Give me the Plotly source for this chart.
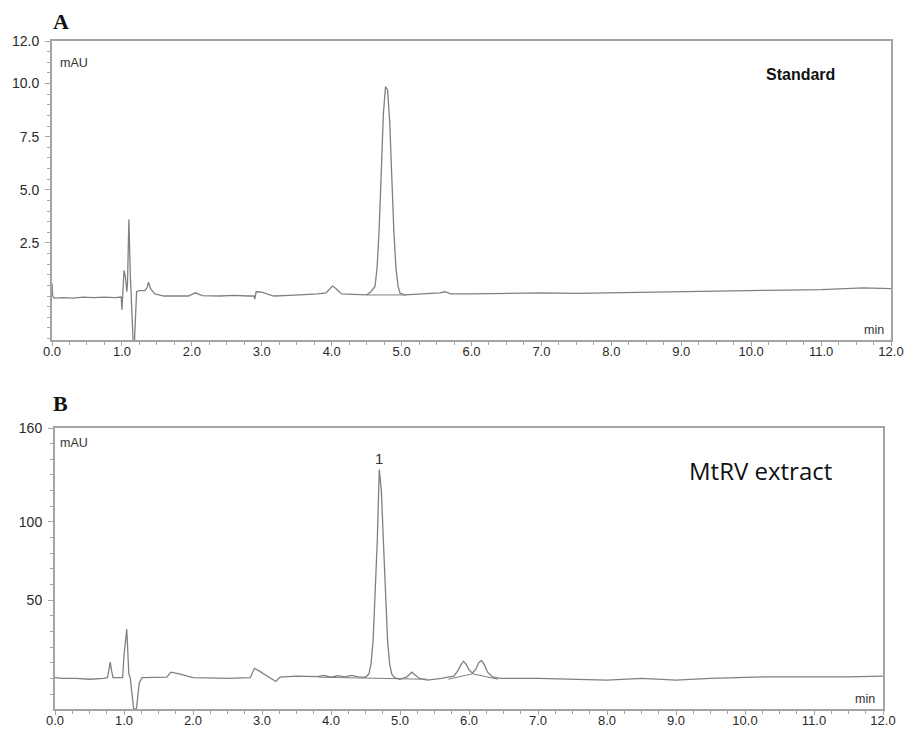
import plotly.graph_objects as go

# ---- Panel A: reference standard (time in min, signal in mAU) ----
std_time = [
    0.00, 0.01, 0.03, 0.15, 0.30, 0.45, 0.60, 0.75, 0.90, 0.99,
    1.00, 1.02, 1.03, 1.05, 1.07, 1.08, 1.10, 1.12, 1.14, 1.16,
    1.18, 1.21, 1.25, 1.33, 1.36, 1.38, 1.41, 1.47, 1.60, 1.80,
    1.95, 2.05, 2.15, 2.40, 2.60, 2.80, 2.89, 2.90, 2.92, 3.00,
    3.17, 3.40, 3.60, 3.80, 3.92, 3.97, 4.01, 4.06, 4.14, 4.30, 4.50,
    4.56, 4.62, 4.65, 4.68, 4.71, 4.74, 4.77, 4.80, 4.83, 4.86,
    4.89, 4.92, 4.95, 4.98, 5.05, 5.30, 5.55, 5.62, 5.70, 6.00,
    6.50, 7.00, 7.50, 8.00, 8.50, 9.00, 9.50, 10.00, 10.50, 11.00,
    11.60, 12.00,
]
std_signal = [
    0.60, 0.00, -0.10, -0.08, -0.10, -0.05, -0.08, -0.05, -0.08, -0.05,
    -0.66, 0.40, 1.20, 0.90, 0.20, 0.60, 3.60, 1.00, -0.60, -2.10,
    -2.10, 0.20, 0.25, 0.25, 0.40, 0.65, 0.35, 0.10, 0.00, 0.02,
    0.00, 0.15, 0.02, 0.00, 0.03, 0.00, 0.00, -0.15, 0.20, 0.18,
    0.00, 0.03, 0.05, 0.10, 0.15, 0.35, 0.47, 0.35, 0.10, 0.08, 0.05,
    0.20, 0.45, 1.35, 3.20, 5.90, 8.60, 9.85, 9.70, 8.20, 5.50,
    3.00, 1.30, 0.45, 0.12, 0.05, 0.10, 0.15, 0.20, 0.10, 0.10,
    0.12, 0.15, 0.12, 0.15, 0.18, 0.22, 0.24, 0.27, 0.28, 0.30,
    0.38, 0.35,
]
# integration baseline drawn under the standard peak
std_base_time = [4.50, 5.07]
std_base_signal = [0.05, 0.05]

# ---- Panel B: MtRV extract ----
ext_time = [
    0.00, 0.10, 0.30, 0.50, 0.70, 0.76, 0.78, 0.80, 0.82, 0.84,
    0.98, 1.00, 1.04, 1.07, 1.09, 1.12, 1.14, 1.18, 1.22, 1.26,
    1.50, 1.62, 1.68, 1.80, 2.00, 2.50, 2.83, 2.89, 2.95, 3.10,
    3.20, 3.26, 3.50, 3.80, 3.90, 4.00, 4.10, 4.20, 4.30, 4.40,
    4.50, 4.55, 4.58, 4.61, 4.64, 4.67, 4.70, 4.73, 4.76, 4.79,
    4.82, 4.85, 4.88, 4.92, 5.00, 5.10, 5.14, 5.17, 5.21, 5.28, 5.40, 5.60,
    5.78, 5.84, 5.88, 5.92, 5.96, 6.00, 6.05, 6.10, 6.14, 6.18, 6.22, 6.27,
    6.34, 6.45, 7.00, 7.50, 8.00, 8.50,
    9.00, 9.50, 10.00, 10.30, 11.00, 11.50, 12.00,
]
ext_signal = [
    0.5, 0.0, 0.0, -0.5, 0.0, 0.5, 5.0, 10.5, 5.0, 0.5,
    0.5, 15.0, 31.5, 3.0, 0.5, -10.0, -19.5, -19.5, -3.0, 0.5,
    0.5, 0.8, 4.0, 3.0, 0.5, 0.0, 0.5, 6.5, 5.0, 1.0,
    -1.9, 0.9, 1.5, 1.2, 2.0, 0.8, 1.8, 1.0, 2.0, 1.0,
    0.8, 2.9, 9.3, 24.0, 51.0, 87.0, 133.5, 120.0, 87.0, 51.0,
    24.0, 9.3, 2.9, 0.5, -0.5, 1.0, 3.0, 4.0, 2.5, 0.0, -1.0, 0.0,
    1.5, 5.0, 8.5, 11.0, 9.0, 5.5, 3.5, 6.0, 10.0, 11.5, 9.0, 4.0,
    1.0, 0.0, 0.0, -0.5, -1.0, 0.0,
    -1.0, 0.0, 0.5, 1.0, 1.0, 1.0, 1.5,
]
# integration baselines under the extract peaks
ext_base_time = [3.82, 5.40, None, 5.70, 6.05, 6.42]
ext_base_signal = [0.8, -0.5, None, -0.5, 3.0, -0.5]

x_ticks = [0, 1, 2, 3, 4, 5, 6, 7, 8, 9, 10, 11, 12]
x_tick_text = ["0.0", "1.0", "2.0", "3.0", "4.0", "5.0", "6.0",
               "7.0", "8.0", "9.0", "10.0", "11.0", "12.0"]
std_y_ticks = [2.5, 5.0, 7.5, 10.0, 12.0]
std_y_text = ["2.5", "5.0", "7.5", "10.0", "12.0"]
ext_y_ticks = [50, 100, 160]
ext_y_text = ["50", "100", "160"]

W, H = 915, 736
TRACE = "#808080"
AXIS = "#a4a4a4"
XTICKFONT = dict(family="Liberation Sans, Arial", size=13, color="#2a2a2a")
YTICKFONT = dict(family="Liberation Sans, Arial", size=14, color="#2a2a2a")

fig = go.Figure()
fig.add_trace(go.Scatter(x=std_time, y=std_signal, mode="lines",
                         line=dict(color=TRACE, width=1.3),
                         xaxis="x", yaxis="y", showlegend=False))
fig.add_trace(go.Scatter(x=std_base_time, y=std_base_signal, mode="lines",
                         line=dict(color=TRACE, width=1),
                         xaxis="x", yaxis="y", showlegend=False))
fig.add_trace(go.Scatter(x=ext_time, y=ext_signal, mode="lines",
                         line=dict(color=TRACE, width=1.3),
                         xaxis="x2", yaxis="y2", showlegend=False))
fig.add_trace(go.Scatter(x=ext_base_time, y=ext_base_signal, mode="lines",
                         line=dict(color=TRACE, width=1),
                         xaxis="x2", yaxis="y2", showlegend=False))


def px_x(p):
    return p / W


def px_y(p):
    return 1 - p / H


common_x = dict(
    range=[0, 12], tickvals=x_ticks, ticktext=x_tick_text,
    showline=True, linecolor=AXIS, linewidth=2, mirror=True,
    ticks="outside", ticklen=4, tickcolor=AXIS, tickwidth=1,
    ticklabelstandoff=-6,
    minor=dict(dtick=0.25, tick0=0, ticks="outside", ticklen=3,
               tickcolor=AXIS, tickwidth=1),
    showgrid=False, zeroline=False, tickfont=XTICKFONT, fixedrange=True,
    automargin=False,
)
common_y = dict(
    showline=True, linecolor=AXIS, linewidth=2, mirror=True,
    ticks="outside", ticklen=5, tickcolor=AXIS, tickwidth=1,
    ticklabelstandoff=3,
    showgrid=False, zeroline=False, tickfont=YTICKFONT, fixedrange=True,
    automargin=False,
)

fig.update_layout(
    template="none",
    width=W, height=H,
    margin=dict(l=0, r=0, t=0, b=0, autoexpand=False),
    paper_bgcolor="white", plot_bgcolor="white",
    xaxis=dict(domain=[px_x(52), px_x(891)], anchor="y", **common_x),
    yaxis=dict(domain=[px_y(340), px_y(41)], anchor="x",
               range=[-2.07, 12.0], tickvals=std_y_ticks, ticktext=std_y_text,
               minor=dict(dtick=0.5, tick0=0, ticks="outside", ticklen=3,
                          tickcolor=AXIS, tickwidth=1),
               **common_y),
    xaxis2=dict(domain=[px_x(55), px_x(883)], anchor="y2", **common_x),
    yaxis2=dict(domain=[px_y(709), px_y(428)], anchor="x2",
                range=[-19.5, 160], tickvals=ext_y_ticks, ticktext=ext_y_text,
                minor=dict(dtick=10, tick0=0, ticks="outside", ticklen=3,
                           tickcolor=AXIS, tickwidth=1),
                **common_y),
)

small = dict(family="Liberation Sans, Arial", size=12.5, color="#333333")
letter = dict(family="Liberation Serif, Times New Roman", size=22, color="#111")
annotations = [
    # panel letters
    dict(text="<b>A</b>", x=px_x(51), y=px_y(21), xanchor="left", yanchor="middle", font=letter),
    dict(text="<b>B</b>", x=px_x(51), y=px_y(403), xanchor="left", yanchor="middle", font=letter),
    # sample names
    dict(text="<b>Standard</b>", x=px_x(800), y=px_y(75), xanchor="center", yanchor="middle",
         font=dict(family="Liberation Sans, Arial", size=16, color="#111")),
    dict(text="MtRV extract", x=px_x(760), y=px_y(470), xanchor="center", yanchor="middle",
         font=dict(family="Open Sans", size=24, color="#111")),
    # unit labels
    dict(text="mAU", x=px_x(58), y=px_y(63), xanchor="left", yanchor="middle", font=small),
    dict(text="mAU", x=px_x(58), y=px_y(443), xanchor="left", yanchor="middle", font=small),
    dict(text="min", x=px_x(886), y=px_y(330), xanchor="right", yanchor="middle", font=small),
    dict(text="min", x=px_x(877), y=px_y(699), xanchor="right", yanchor="middle", font=small),
]
for a in annotations:
    a.update(xref="paper", yref="paper", showarrow=False)
fig.update_layout(annotations=annotations)

# peak number above the main extract peak
fig.add_annotation(x=4.70, y=134, xref="x2", yref="y2", text="1", showarrow=False,
                   yanchor="bottom", font=dict(family="Liberation Sans, Arial", size=15, color="#333"))

fig.write_html("out.html")
